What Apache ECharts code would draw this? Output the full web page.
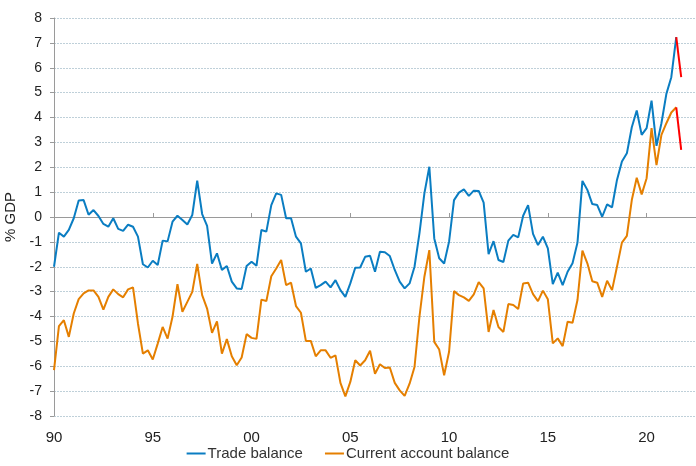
<!DOCTYPE html>
<html>
<head>
<meta charset="utf-8">
<script src="https://cdn.jsdelivr.net/npm/echarts@6/dist/echarts.min.js"></script>
<style>
  html, body { margin: 0; padding: 0; background: #fff; }
  #chart { width: 696px; height: 466px; }
</style>
</head>
<body>
<div id="chart"></div>
<script>
// quarterly, 1990 Q1 .. 2021 Q4 (% of GDP)
const tradeBalance = [
  -2.0, -0.63, -0.79, -0.52, -0.05, 0.66, 0.68, 0.09, 0.28, 0.04,
  -0.28, -0.39, -0.05, -0.48, -0.56, -0.31, -0.39, -0.79, -1.9, -2.03,
  -1.76, -1.93, -0.95, -0.98, -0.19, 0.05, -0.12, -0.30, 0.08, 1.46,
  0.12, -0.36, -1.87, -1.46, -2.13, -1.97, -2.60, -2.87, -2.89, -1.97,
  -1.80, -1.96, -0.52, -0.59, 0.48, 0.95, 0.89, -0.05, -0.05, -0.79,
  -1.06, -2.20, -2.07, -2.85, -2.74, -2.60, -2.83, -2.54, -2.94, -3.21,
  -2.67, -2.04, -2.03, -1.60, -1.56, -2.20, -1.40, -1.42, -1.57, -2.13,
  -2.60, -2.87, -2.67, -2.0, -0.66, 0.95, 2.02, -0.86, -1.66, -1.87,
  -0.99, 0.68, 0.98, 1.11, 0.85, 1.06, 1.05, 0.58, -1.49, -0.97,
  -1.73, -1.81, -0.95, -0.72, -0.82, 0.05, 0.48, -0.68, -1.13, -0.79,
  -1.26, -2.70, -2.24, -2.74, -2.20, -1.86, -1.03, 1.45, 1.09, 0.52,
  0.48, 0.01, 0.51, 0.39, 1.49, 2.23, 2.56, 3.61, 4.28, 3.30,
  3.57, 4.68, 2.86, 3.77, 4.95, 5.62, 7.23, 5.62,
]
const currentAccount = [
  -6.16, -4.39, -4.15, -4.82, -3.88, -3.30, -3.07, -2.95, -2.95, -3.21,
  -3.72, -3.21, -2.91, -3.10, -3.23, -2.91, -2.83, -4.28, -5.49, -5.36,
  -5.73, -5.09, -4.42, -4.89, -4.01, -2.70, -3.81, -3.41, -3.01, -1.89,
  -3.14, -3.68, -4.66, -4.20, -5.49, -4.91, -5.60, -5.96, -5.65, -4.71,
  -4.86, -4.90, -3.32, -3.38, -2.38, -2.07, -1.73, -2.74, -2.64, -3.58,
  -3.85, -4.98, -4.98, -5.60, -5.36, -5.36, -5.66, -5.56, -6.67, -7.21,
  -6.63, -5.76, -5.97, -5.76, -5.38, -6.30, -5.92, -6.07, -6.05, -6.67,
  -6.97, -7.19, -6.70, -6.03, -4.01, -2.40, -1.33, -5.02, -5.33, -6.36,
  -5.42, -2.98, -3.14, -3.23, -3.37, -3.11, -2.62, -2.87, -4.62, -3.74,
  -4.42, -4.62, -3.50, -3.54, -3.70, -2.67, -2.64, -3.10, -3.38, -2.96,
  -3.31, -5.08, -4.88, -5.19, -4.21, -4.25, -3.34, -1.35, -1.86, -2.58,
  -2.64, -3.21, -2.56, -2.94, -2.00, -1.03, -0.76, 0.68, 1.58, 0.91,
  1.56, 3.57, 2.09, 3.30, 3.77, 4.20, 4.41, 2.70,
]
// last segment (latest estimate) drawn in red
const latestFrom = 126
const seriesNames = ['Trade balance', 'Current account balance']

// quarter categories, axis runs a little past the data
const quarters = []
for (let y = 1990; quarters.length < 131; y++) {
  for (let q = 1; q <= 4 && quarters.length < 131; q++) quarters.push(y + ' Q' + q)
}

const BLUE = '#0a7dc2'
const ORANGE = '#e57f00'
const RED = '#ff0000'
const FONT = 'Liberation Sans'

const head = (arr) => arr.map((v, i) => (i <= latestFrom ? v : null))
const tail = (arr) => arr.map((v, i) => (i >= latestFrom ? v : null))
const everyFive = (i) => i % 20 === 0

const chart = echarts.init(document.getElementById('chart'))
chart.setOption({
  animation: false,
  grid: {
    left: 54,
    right: 0,
    top: 18,
    bottom: 50,
    outerBoundsMode: 'none',
  },
  legend: {
    bottom: 0,
    left: 'center',
    data: seriesNames,
    icon: 'rect',
    itemWidth: 19,
    itemHeight: 2,
    itemGap: 22,
    textStyle: { fontFamily: FONT, fontSize: 15, color: '#333', padding: [0, 0, 0, -3] },
  },
  xAxis: [{
    // labels at the bottom
    type: 'category',
    data: quarters,
    boundaryGap: false,
    position: 'bottom',
    axisLine: { show: false, onZero: false },
    axisTick: { show: false },
    axisLabel: {
      interval: (i) => everyFive(i),
      formatter: (v) => v.slice(2, 4),
      fontFamily: FONT,
      fontSize: 15,
      color: '#222',
      margin: 14,
    },
    splitLine: { show: false },
  }, {
    // zero line with ticks
    type: 'category',
    data: quarters,
    boundaryGap: false,
    position: 'bottom',
    axisLine: { onZero: true, lineStyle: { color: '#9a9a9a', width: 1 } },
    axisTick: { inside: true, length: 4, interval: (i) => everyFive(i), lineStyle: { color: '#9a9a9a' } },
    axisLabel: { show: false },
    splitLine: { show: false },
  }],
  yAxis: {
    type: 'value',
    min: -8,
    max: 8,
    interval: 1,
    name: '% GDP',
    nameLocation: 'middle',
    nameGap: 34,
    nameTextStyle: { fontFamily: FONT, fontSize: 15, color: '#222' },
    axisLine: { show: true, lineStyle: { color: '#9a9a9a', width: 1 } },
    axisTick: { show: true, length: 4, lineStyle: { color: '#9a9a9a' } },
    axisLabel: { fontFamily: FONT, fontSize: 14, color: '#222', margin: 12 },
    splitLine: { lineStyle: { color: '#bfd0d9', type: [2, 1], width: 1 } },
  },
  series: [{
    name: seriesNames[0],
    type: 'line',
    data: head(tradeBalance),
    showSymbol: false,
    color: BLUE,
    lineStyle: { width: 2, color: BLUE },
  }, {
    name: seriesNames[1],
    type: 'line',
    data: head(currentAccount),
    showSymbol: false,
    color: ORANGE,
    lineStyle: { width: 2, color: ORANGE },
  }, {
    name: 'Trade balance latest',
    type: 'line',
    data: tail(tradeBalance),
    showSymbol: false,
    lineStyle: { width: 2, color: RED },
  }, {
    name: 'Current account latest',
    type: 'line',
    data: tail(currentAccount),
    showSymbol: false,
    lineStyle: { width: 2, color: RED },
  }],
})
</script>
</body>
</html>
